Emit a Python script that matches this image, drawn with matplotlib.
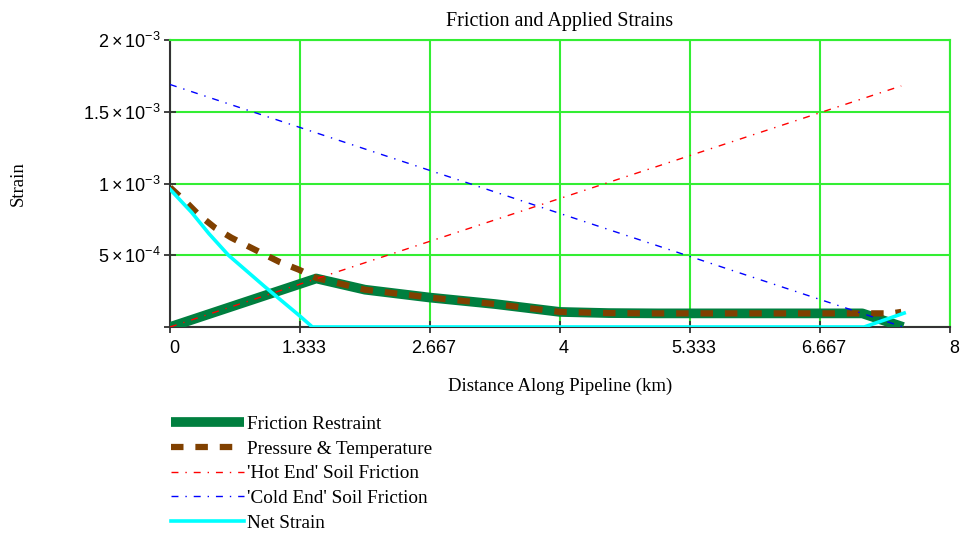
import numpy as np
import matplotlib
matplotlib.use("Agg")
import matplotlib.pyplot as plt
from matplotlib.transforms import ScaledTranslation

plt.rcParams['mathtext.fontset'] = 'custom'
plt.rcParams['mathtext.rm'] = 'Liberation Sans'
plt.rcParams['mathtext.it'] = 'Liberation Sans'

# distance along pipeline (km) and strains
pt_x = [0, 0.17, 0.29, 0.46, 0.63, 0.8, 0.97, 1.13, 1.32, 1.5, 2.0, 2.667,
        3.333, 4.0, 4.5, 5.0, 6.0, 7.0, 7.4, 7.5]
pt_strain = [9.73e-4, 8.67e-4, 7.85e-4, 6.92e-4, 6.22e-4, 5.63e-4, 5.05e-4,
             4.51e-4, 4.0e-4, 3.42e-4, 2.6e-4, 2.05e-4, 1.6e-4, 1.05e-4,
             0.97e-4, 0.95e-4, 0.95e-4, 0.95e-4, 0.95e-4, 1.05e-4]

fric_x = [0, 1.5, 2.0, 2.667, 3.333, 4.0, 4.5, 5.0, 6.0, 7.0, 7.1, 7.52]
fric_strain = [0, 3.38e-4, 2.6e-4, 2.05e-4, 1.6e-4, 1.05e-4, 0.97e-4,
               0.95e-4, 0.95e-4, 0.95e-4, 0.95e-4, 0]

hot_x = [0, 7.5]
hot_strain = [0, 1.68e-3]

cold_x = [0, 7.52]
cold_strain = [1.69e-3, 0]

net_x = [0, 0.22, 0.4, 0.6, 0.974, 1.333, 1.46, 7.12, 7.53]
net_strain = [9.6e-4, 8.0e-4, 6.5e-4, 5.0e-4, 2.8e-4, 0.76e-4, 0, 0, 0.97e-4]

xticks = [0, 4 / 3, 8 / 3, 4, 16 / 3, 20 / 3, 8]
xlabels = ['0', '1.333', '2.667', '4', '5.333', '6.667', '8']
yticks = [0, 5e-4, 1e-3, 1.5e-3, 2e-3]
ylabels = ['', r'$5\times10^{-4}$', r'$1\times10^{-3}$',
           r'$1.5\times10^{-3}$', r'$2\times10^{-3}$']

serif = 'Liberation Serif'

fig = plt.figure(figsize=(9.64, 5.33), dpi=100)
ax = fig.add_axes([170 / 964, 1 - 327 / 533, 780 / 964, 287 / 533])

ax.plot(fric_x, fric_strain, color='#007f3f', lw=7, solid_capstyle='butt',
        label='Friction Restraint', zorder=3)
ax.plot(pt_x, pt_strain, color='#804000', lw=4.5, dashes=(2.0, 1.9),
        label='Pressure & Temperature', zorder=4)
ax.plot(hot_x, hot_strain, color='#ff0000', lw=1.0, dashes=(5, 5, 1, 5),
        label="'Hot End' Soil Friction", zorder=5)
ax.plot(cold_x, cold_strain, color='#0000ff', lw=1.0, dashes=(5, 5, 1, 5),
        label="'Cold End' Soil Friction", zorder=5)
ax.plot(net_x, net_strain, color='#00ffff', lw=2.6,
        label='Net Strain', zorder=6)

ax.set_xlim(0, 8)
ax.set_ylim(0, 2e-3)
ax.set_xticks(xticks)
ax.set_xticklabels(xlabels, fontfamily='Liberation Sans', fontsize=13)
ax.set_yticks(yticks)
ax.set_yticklabels(ylabels, fontsize=13)
ax.tick_params(direction='inout', length=9, width=1.3, color='#333333')
ax.tick_params(axis='x', pad=5)
ax.tick_params(axis='y', pad=2)
shift = ScaledTranslation(4 / 100, 0, fig.dpi_scale_trans)
for lbl in ax.get_xticklabels():
    lbl.set_transform(lbl.get_transform() + shift)

ax.grid(True, color='#33ee33', lw=1.5)
ax.set_axisbelow(True)
for side in ['top', 'right']:
    ax.spines[side].set_color('#33ee33')
    ax.spines[side].set_linewidth(1.5)
for side in ['left', 'bottom']:
    ax.spines[side].set_color('#333333')
    ax.spines[side].set_linewidth(1.5)

ax.set_title('Friction and Applied Strains', fontfamily=serif, fontsize=14.5,
             pad=10)
ax.set_xlabel('Distance Along Pipeline (km)', fontfamily=serif, fontsize=13.5,
              labelpad=15)
fig.text(18 / 964, 1 - 184 / 533, 'Strain', rotation=90, fontfamily=serif,
         fontsize=13.5, ha='center', va='center')

leg = fig.legend(loc='upper left', bbox_to_anchor=(163 / 964, 1 - 408 / 533),
                 frameon=False, handlelength=3.8, handletextpad=0.2,
                 labelspacing=0.38, borderaxespad=0,
                 prop={'family': serif, 'size': 13.8})

fig.savefig('out.png', dpi=100)
